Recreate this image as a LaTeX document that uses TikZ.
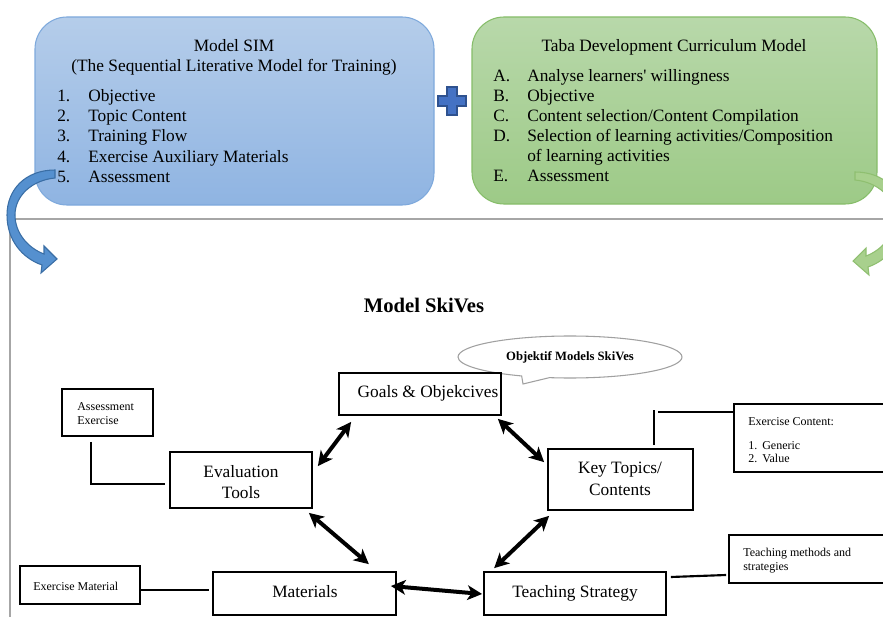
\documentclass[tikz,border=0pt]{standalone}
\usepackage{fontspec}
\setmainfont{Liberation Serif}[Ligatures=TeXOff]
\usetikzlibrary{arrows.meta,calc,fit,shapes.callouts,shapes.geometric}
\definecolor{bluetop}{HTML}{B5CDEA}
\definecolor{bluebot}{HTML}{8FB4E2}
\definecolor{bluebd}{HTML}{7EA9DC}
\definecolor{greentop}{HTML}{B8D8AA}
\definecolor{greenbot}{HTML}{9DCA87}
\definecolor{greenbd}{HTML}{86BD69}
\definecolor{plusfill}{HTML}{4472C4}
\definecolor{plusbd}{HTML}{2F528F}
\definecolor{frameline}{HTML}{A6A6A6}
\definecolor{arrblue}{HTML}{5590CF}
\definecolor{arrbluebd}{HTML}{3A6EA5}
\definecolor{arrgreen}{HTML}{A8D08D}
\definecolor{arrgreenbd}{HTML}{8FBF70}
\definecolor{calloutgray}{HTML}{A0A0A0}
\begin{document}
\begin{tikzpicture}[x=0.75pt,y=-0.75pt,
  bx/.style={draw=black, line width=1.3pt, inner sep=0pt, fill=white},
  txt/.style={inner sep=0pt, font=\fontsize{13}{15}\selectfont},
  stxt/.style={inner sep=0pt, font=\fontsize{9}{10.5}\selectfont, anchor=base west},
  dbl/.style={line width=3pt, {Stealth[length=11pt,width=11pt,inset=3pt]}-{Stealth[length=11pt,width=11pt,inset=3pt]}},
  conn/.style={line width=1.6pt},
  frame/.style={draw=frameline, line width=1.1pt},
  ]
\useasboundingbox (0,0) rectangle (883,617);
\clip (0,0) rectangle (883,617);

% frame lines
\draw[frame] (10,219) -- (883,219);
\draw[frame] (10,219) -- (10,617);

% top boxes
\node[fit={(35,17)(434,205)}, inner sep=0pt, rounded corners=24pt, draw=bluebd, line width=0.8pt, top color=bluetop, bottom color=bluebot] (sim) {};
\node[fit={(472,17)(877,204)}, inner sep=0pt, rounded corners=24pt, draw=greenbd, line width=0.8pt, top color=greentop, bottom color=greenbot] (taba) {};

\node[txt, anchor=base] (simT1) at (234,52) {Model SIM};
\node[txt, anchor=base] (simT2) at (234,72) {(The Sequential Literative Model for Training)};
\foreach \t [count=\i] in {Objective, Topic Content, Training Flow, Exercise Auxiliary Materials, Assessment} {
  \node[txt, anchor=base west] (simN\i) at (57,{82+20*\i}) {\i.};
  \node[txt, anchor=base west] (simI\i) at (88,{82+20*\i}) {\t};
}

\node[txt, anchor=base] (tabaT) at (674,52) {Taba Development Curriculum Model};
\node[txt, anchor=base west] (tabaNA) at (493,82) {A.};
\node[txt, anchor=base west] (tabaIA) at (527,82) {Analyse learners' willingness};
\node[txt, anchor=base west] (tabaNB) at (493,102) {B.};
\node[txt, anchor=base west] (tabaIB) at (527,102) {Objective};
\node[txt, anchor=base west] (tabaNC) at (493,121.5) {C.};
\node[txt, anchor=base west] (tabaIC) at (527,121.5) {Content selection/Content Compilation};
\node[txt, anchor=base west] (tabaND) at (493,141.5) {D.};
\node[txt, anchor=base west] (tabaID) at (527,141.5) {Selection of learning activities/Composition};
\node[txt, anchor=base west] (tabaID2) at (527,161.5) {of learning activities};
\node[txt, anchor=base west] (tabaNE) at (493,181.5) {E.};
\node[txt, anchor=base west] (tabaIE) at (527,181.5) {Assessment};

% plus sign
\draw[fill=plusfill, draw=plusbd, line width=0.8pt] (447,87) -- (457,87) -- (457,96) -- (466,96) -- (466,106) -- (457,106) -- (457,115) -- (447,115) -- (447,106) -- (438,106) -- (438,96) -- (447,96) -- cycle;

% curved arrows
\def\curvedarrow{(55,170) .. controls (25,170) and (7,190) .. (7,215) .. controls (7,240) and (22,258) .. (42,265) -- (41,273) -- (57,259) -- (44,246) -- (44,254) .. controls (28,248) and (15,233) .. (15,215) .. controls (15,195) and (33,180) .. (55,178) -- cycle}
\draw[fill=arrblue, draw=arrbluebd, line width=0.8pt] \curvedarrow;
\begin{scope}[shift={(910,2)}, xscale=-1]
\draw[fill=arrgreen, draw=arrgreenbd, line width=0.8pt] \curvedarrow;
\end{scope}

% title
\node[anchor=base, inner sep=0pt, font=\bfseries\fontsize{15.5}{18}\selectfont] (title) at (424,312) {Model SkiVes};

% callout
\node[ellipse callout, draw=calloutgray, line width=0.8pt, fill=white, minimum width=168pt, minimum height=31.5pt, inner sep=0pt, callout absolute pointer={(523,384)}, font=\bfseries\fontsize{9.5}{11}\selectfont] (obj) at (570,357) {Objektif Models SkiVes};

% main boxes
\node[bx, fit={(339,373)(501,415)}] (goals) {};
\node[txt, anchor=base] (goalsT) at (428,397) {Goals \& Objekcives};
\node[bx, fit={(170,452)(312,508)}] (eval) {};
\node[txt, anchor=base] (evalT1) at (241,477) {Evaluation};
\node[txt, anchor=base] (evalT2) at (241,498) {Tools};
\node[bx, fit={(548,449)(693,510)}] (key) {};
\node[txt, anchor=base] (keyT1) at (620,473) {Key Topics/};
\node[txt, anchor=base] (keyT2) at (620,495) {Contents};
\node[bx, fit={(213,572)(396,615)}] (mat) {};
\node[txt, anchor=base] (matT) at (305,597) {Materials};
\node[bx, fit={(484,572)(666,615)}] (teach) {};
\node[txt, anchor=base] (teachT) at (575,597) {Teaching Strategy};

% side boxes
\node[bx, fit={(62,389)(153,436)}] (assess) {};
\node[stxt] (assessT1) at (77,410) {Assessment};
\node[stxt] (assessT2) at (77,424) {Exercise};
\node[bx, fit={(20,566)(140,604)}] (exmat) {};
\node[stxt] (exmatT) at (33,590.5) {Exercise Material};
\node[bx, fit={(734,404)(890,472)}] (excontent) {};
\node[stxt] (excT) at (748,425) {Exercise Content:};
\node[stxt] (excN1) at (748,449) {1.};
\node[stxt] (excI1) at (762,449) {Generic};
\node[stxt] (excN2) at (748,462.5) {2.};
\node[stxt] (excI2) at (762,462.5) {Value};
\node[bx, fit={(729,535)(890,583)}] (teachmeth) {};
\node[stxt] (tmT1) at (743,556.5) {Teaching methods and};
\node[stxt] (tmT2) at (743,570) {strategies};

% plain connectors
\draw[conn] ($(assess.south)+(-16.5,5)$) |- ($(eval.west)+(-4,4)$);
\draw[conn] ($(exmat.east)+(-1,5)$) -- ($(mat.west)+(-3,-3.5)$);
\draw[conn] ($(key.north)+(33.5,-3)$) -- ($(key.north)+(33.5,-38)$);
\draw[conn] ($(key.north)+(37.5,-36)$) -- ($(excontent.north west)+(1,9)$);
\draw[conn] ($(teach.east)+(4,-16.5)$) -- ($(teachmeth.west)+(-2,16)$);

% double arrows
\draw[dbl] ($(goals.south west)+(13,6)$) -- ($(eval.north east)+(5,15)$);
\draw[dbl] ($(goals.south east)+(-4,3)$) -- ($(key.north west)+(-3,14)$);
\draw[dbl] ($(eval.south east)+(-4,4)$) -- ($(mat.north east)+(-28,-7)$);
\draw[dbl] ($(key.south west)+(2,5)$) -- ($(teach.north west)+(11,-3)$);
\draw[dbl] ($(mat.east)+(-6,-7.5)$) -- ($(teach.west)+(-1,0.5)$);
\end{tikzpicture}
\end{document}
